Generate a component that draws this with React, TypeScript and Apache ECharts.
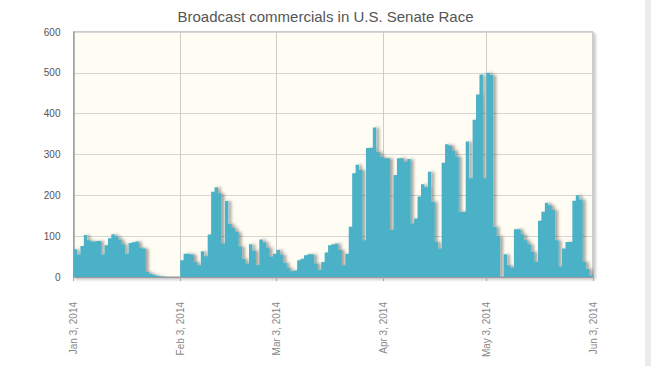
import React, { useEffect, useRef } from "react";
import * as echarts from "echarts";

const titleText = "Broadcast commercials in U.S. Senate Race";
const tickLabels = ["Jan 3, 2014", "Feb 3, 2014", "Mar 3, 2014", "Apr 3, 2014", "May 3, 2014", "Jun 3, 2014"];
const yTicks = [0, 100, 200, 300, 400, 500, 600];

// daily values, Jan 3 .. Feb 2
const janValues = [68, 55, 76, 103, 90, 87, 88, 88, 55, 78, 95, 105, 100, 92, 80, 57, 83, 85, 87, 72, 70, 12, 8, 5, 3, 1, 0, 0, 0, 0, 0];
// Feb 3 .. Mar 2
const febValues = [41, 57, 57, 55, 37, 29, 63, 51, 104, 209, 220, 205, 82, 186, 130, 120, 110, 75, 45, 33, 80, 65, 30, 92, 85, 72, 50, 57];
// Mar 3 .. Apr 2
const marValues = [67, 55, 35, 22, 14, 16, 41, 45, 53, 56, 55, 33, 18, 37, 60, 78, 80, 82, 66, 29, 57, 123, 254, 275, 262, 90, 316, 316, 366, 307, 295];
// Apr 3 .. May 2
const aprValues = [291, 291, 115, 250, 291, 291, 283, 289, 131, 143, 197, 227, 220, 258, 184, 86, 70, 280, 325, 322, 310, 295, 160, 160, 332, 242, 385, 447, 496, 242];
// May 3 .. Jun 3
const mayValues = [500, 495, 123, 100, 0, 56, 29, 23, 117, 117, 105, 90, 80, 61, 37, 138, 160, 182, 176, 164, 90, 26, 70, 86, 86, 187, 200, 190, 37, 20, 4, 0];

const values = [...janValues, ...febValues, ...marValues, ...aprValues, ...mayValues];

const monthNames = ["Jan", "Feb", "Mar", "Apr", "May", "Jun", "Jul", "Aug", "Sep", "Oct", "Nov", "Dec"];
const categories: string[] = [];
{
  const d = new Date(2014, 0, 3);
  for (let i = 0; i < values.length; i++) {
    categories.push(`${monthNames[d.getMonth()]} ${d.getDate()}, ${d.getFullYear()}`);
    d.setDate(d.getDate() + 1);
  }
}

export default function App() {
  const ref = useRef<HTMLDivElement>(null);
  useEffect(() => {
    if (!ref.current) return;
    const chart = echarts.init(ref.current, undefined, { renderer: "svg" });
    const isTick = (_i: number, v: string) => tickLabels.includes(v);
    chart.setOption({
      animation: false,
      backgroundColor: "#ffffff",
      title: {
        text: titleText,
        left: "center",
        top: 4,
        textStyle: { fontSize: 15, fontWeight: "normal", color: "#555555", fontFamily: "Liberation Sans" },
      },
      grid: {
        left: 73.5,
        right: 58,
        top: 32,
        bottom: 89,
        show: true,
        backgroundColor: "#fffdf3",
        borderColor: "#9a9a9a",
        borderWidth: 1,
        shadowColor: "rgba(0,0,0,0.25)",
        shadowBlur: 3,
        shadowOffsetX: 2,
        shadowOffsetY: 2,
      },
      xAxis: {
        type: "category",
        data: categories,
        boundaryGap: false,
        axisLine: { show: true, lineStyle: { color: "#9a9a9a" } },
        axisTick: { show: true, interval: isTick, length: 4, lineStyle: { color: "#aaaaaa" } },
        axisLabel: {
          interval: isTick,
          rotate: 90,
          margin: 25,
          fontSize: 10,
          color: "#888888",
          fontFamily: "Liberation Sans",
        },
        splitLine: { show: true, interval: isTick, lineStyle: { color: "#cccccc", width: 1 } },
      },
      yAxis: {
        type: "value",
        min: yTicks[0],
        max: yTicks[yTicks.length - 1],
        interval: 100,
        axisLine: { show: true, lineStyle: { color: "#9a9a9a", width: 1.5 } },
        axisTick: { show: false },
        axisLabel: { fontSize: 10, color: "#555555", margin: 13, fontFamily: "Liberation Sans" },
        splitLine: { show: true, lineStyle: { color: "#d6d6d6", width: 1 } },
      },
      series: [
        {
          type: "line",
          data: values,
          step: "end",
          symbol: "none",
          lineStyle: { width: 0, opacity: 0 },
          areaStyle: {
            color: "#4bb1c6",
            opacity: 1,
            shadowColor: "rgba(0,0,0,0.35)",
            shadowBlur: 3,
            shadowOffsetX: 3,
            shadowOffsetY: 0,
          },
        },
      ],
      graphic: [
        { type: "rect", shape: { x: 645, y: 0, width: 6, height: 366 }, style: { fill: "#ececec" }, silent: true },
      ],
    });
    return () => chart.dispose();
  }, []);
  return <div ref={ref} style={{ position: "absolute", left: 0, top: 0, width: 651, height: 366 }} />;
}
